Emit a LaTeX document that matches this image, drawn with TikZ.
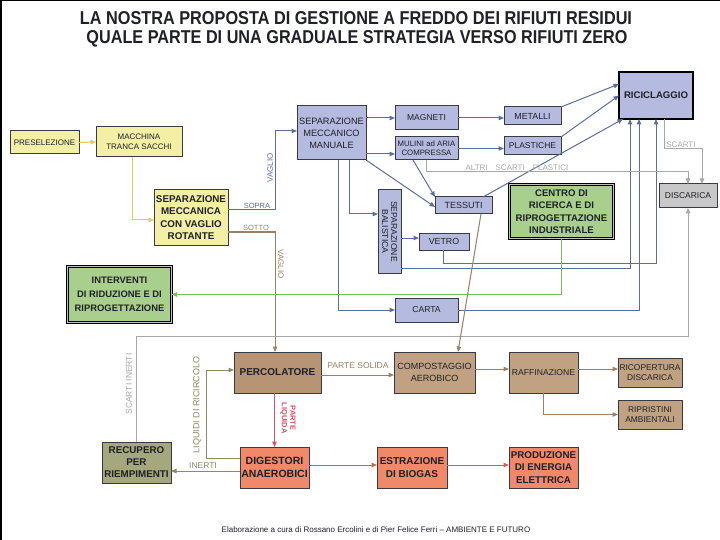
\documentclass[tikz,border=0pt]{standalone}
\usepackage{fontspec}
\usepackage{graphicx}
\setmainfont{Liberation Sans}
\usetikzlibrary{arrows.meta}
\definecolor{yelfill}{HTML}{F3EFA4}
\definecolor{lavfill}{HTML}{B5BADF}
\definecolor{grnfill}{HTML}{A8D08C}
\definecolor{grayfill}{HTML}{C8C8C8}
\definecolor{brnfill}{HTML}{C0A282}
\definecolor{percfill}{HTML}{B69474}
\definecolor{salfill}{HTML}{F0886A}
\definecolor{olivfill}{HTML}{A5A77D}
\definecolor{boxline}{HTML}{3A3A44}
\definecolor{yelline}{HTML}{E8C860}
\definecolor{lavline}{HTML}{5B6F9E}
\definecolor{grayline}{HTML}{A8A8A8}
\definecolor{brnline}{HTML}{9C8064}
\definecolor{pinkline}{HTML}{D85060}
\definecolor{redline}{HTML}{D86050}
\definecolor{olivline}{HTML}{8C8C60}
\definecolor{grnline}{HTML}{80B860}
\definecolor{txt}{HTML}{202028}
\begin{document}
\begin{tikzpicture}[x=1pt,y=-1pt,
  every node/.style={inner sep=0pt, outer sep=0pt},
  bx/.style={draw=boxline, line width=1pt, align=center, text=txt,
    font=\fontsize{8}{10}\selectfont},
  yel/.style={bx, fill=yelfill},
  lav/.style={bx, fill=lavfill},
  brn/.style={bx, fill=brnfill},
  sal/.style={bx, fill=salfill, font=\bfseries\fontsize{10}{12.5}\selectfont},
  grn/.style={bx, fill=grnfill, draw=black, line width=1.4pt, double=gray!50,
    double distance=0.7pt, font=\bfseries\fontsize{9.6}{12.5}\selectfont},
  lbl/.style={font=\fontsize{7.5}{8.5}\selectfont, text=#1, align=center},
  ar/.style={-{Triangle[length=5.5pt,width=4.5pt]}, line width=1pt},
  ]
\useasboundingbox (0,0) rectangle (720,540);
\fill[white] (0,0) rectangle (720,540);
\draw[black, line width=2pt] (1,0) -- (1,540);
\draw[black, line width=0.6pt] (0,0.3) -- (720,0.3);

% title
\node[font=\bfseries, text=txt] (t1) at (356,18)
  {\resizebox{552pt}{13pt}{LA NOSTRA PROPOSTA DI GESTIONE A FREDDO DEI RIFIUTI RESIDUI}};
\node[font=\bfseries, text=txt] (t2) at (357,39)
  {\resizebox{541pt}{13pt}{QUALE PARTE DI UNA GRADUALE STRATEGIA VERSO RIFIUTI ZERO}};

% boxes
\node[yel, minimum width=69pt, minimum height=23pt] (presel) at (44.5,142.5) {PRESELEZIONE};
\node[yel, minimum width=86pt, minimum height=30pt] (macchina) at (139,142) {MACCHINA\\TRANCA SACCHI};
\node[yel, minimum width=74pt, minimum height=55pt, font=\bfseries\fontsize{9.8}{12.5}\selectfont] (sepvaglio) at (191,217.5) {SEPARAZIONE\\MECCANICA\\CON VAGLIO\\ROTANTE};
\node[lav, minimum width=69pt, minimum height=54pt, font=\fontsize{9.2}{12}\selectfont] (sepman) at (331.5,133) {SEPARAZIONE\\MECCANICO\\MANUALE};
\node[lav, minimum width=63pt, minimum height=24pt, font=\fontsize{8.5}{10}\selectfont] (magneti) at (426.5,118) {MAGNETI};
\node[lav, minimum width=63pt, minimum height=23pt, font=\fontsize{7.8}{9}\selectfont] (mulini) at (426.5,148.5) {MULINI ad ARIA\\COMPRESSA};
\node[lav, minimum width=57pt, minimum height=18pt, font=\fontsize{8.8}{10}\selectfont] (metalli) at (532.5,116) {METALLI};
\node[lav, minimum width=57pt, minimum height=18pt, font=\fontsize{8.5}{10}\selectfont] (plastiche) at (532.5,146) {PLASTICHE};
\node[lav, minimum width=74pt, minimum height=47pt, draw=black, line width=1.5pt, font=\bfseries\fontsize{9.6}{11}\selectfont] (ricic) at (656,95.5) {RICICLAGGIO};
\node[lav, minimum width=23pt, minimum height=83pt, font=\fontsize{8.6}{9}\selectfont] (balistica) at (389.5,231.5) {\rotatebox{-90}{\shortstack{SEPARAZIONE\\BALISTICA}}};
\node[lav, minimum width=57pt, minimum height=17pt, font=\fontsize{9}{10}\selectfont] (tessuti) at (463.5,205.5) {TESSUTI};
\node[lav, minimum width=50pt, minimum height=17pt, font=\fontsize{8.8}{10}\selectfont] (vetro) at (444,241.5) {VETRO};
\node[lav, minimum width=63pt, minimum height=24pt, font=\fontsize{8.6}{10}\selectfont] (carta) at (426.5,310) {CARTA};
\node[grn, minimum width=104pt, minimum height=54pt] (centro) at (561.5,211.5) {CENTRO DI\\RICERCA E DI\\RIPROGETTAZIONE\\INDUSTRIALE};
\node[bx, fill=grayfill, minimum width=58pt, minimum height=24pt, font=\fontsize{8.5}{10}\selectfont] (discarica) at (688,196) {DISCARICA};
\node[grn, minimum width=104pt, minimum height=56pt, font=\bfseries\fontsize{9.4}{14}\selectfont] (interventi) at (119.5,294.5) {INTERVENTI\\DI RIDUZIONE E DI\\RIPROGETTAZIONE};
\node[bx, fill=percfill, minimum width=87pt, minimum height=41pt, font=\bfseries\fontsize{10}{12}\selectfont] (percol) at (277.5,372.5) {PERCOLATORE};
\node[brn, minimum width=81pt, minimum height=41pt, font=\fontsize{9}{12}\selectfont] (compost) at (434.5,372.5) {COMPOSTAGGIO\\AEROBICO};
\node[brn, minimum width=69pt, minimum height=41pt, font=\fontsize{8.6}{10}\selectfont] (raffin) at (543.5,372.5) {RAFFINAZIONE};
\node[brn, minimum width=64pt, minimum height=29pt, font=\fontsize{8.4}{10.5}\selectfont] (ricop) at (650,372.5) {RICOPERTURA\\DISCARICA};
\node[brn, minimum width=64pt, minimum height=29pt, font=\fontsize{8.4}{10.5}\selectfont] (ripr) at (650,414.5) {RIPRISTINI\\AMBIENTALI};
\node[bx, fill=olivfill, minimum width=69pt, minimum height=41pt, font=\bfseries\fontsize{9.8}{12}\selectfont] (recupero) at (136.5,462.5) {RECUPERO\\PER\\RIEMPIMENTI};
\node[sal, minimum width=69pt, minimum height=41pt, font=\bfseries\fontsize{10.5}{13}\selectfont] (digest) at (274.5,467.5) {DIGESTORI\\ANAEROBICI};
\node[sal, minimum width=70pt, minimum height=41pt] (estraz) at (412,467.5) {ESTRAZIONE\\DI BIOGAS};
\node[sal, minimum width=69pt, minimum height=41pt, font=\bfseries\fontsize{9.8}{12.5}\selectfont] (produz) at (543.5,467.5) {PRODUZIONE\\DI ENERGIA\\ELETTRICA};

% yellow connectors
\draw[ar, yelline] (presel.east) -- (macchina.west);
\draw[ar, yelline] ([xshift=-7pt]macchina.south) |- ([yshift=-2.5pt]sepvaglio.west);

% vaglio outputs
\draw[ar, lavline] ([yshift=7.5pt]sepvaglio.east) -- ++(47,0) |- ([yshift=2pt]sepman.west);
\draw[ar, brnline] ([yshift=-14.5pt]sepvaglio.east) -| ([xshift=-2.5pt]percol.north);

% blue connectors
\draw[ar, lavline] (sepman.east |- magneti.west) -- (magneti.west);
\draw[ar, lavline] ([yshift=-21pt]sepman.east) -- ([yshift=-5.5pt]mulini.west);
\draw[ar, lavline] (magneti.east) -- (metalli.west |- magneti.east);
\draw[ar, lavline] (mulini.east) -- (plastiche.west |- mulini.east);
\draw[ar, lavline] (metalli.north east) -- ([yshift=11.5pt]ricic.west);
\draw[ar, lavline] (plastiche.north east) -- (ricic.west);
\draw[ar, lavline] ([xshift=-9pt]tessuti.north east) -- ([xshift=-33pt]ricic.south);
\draw[ar, lavline] (sepman.south east) -- ([yshift=-1.5pt]tessuti.west);
\draw[ar, lavline] ([xshift=-13.5pt]mulini.south) -- (tessuti.north west);
\draw[ar, lavline] ([xshift=17.5pt]sepman.south) |- ([yshift=17.5pt]balistica.west);
\draw[ar, lavline] ([xshift=6.5pt]sepman.south) |- (carta.west);
\draw[ar, lavline] ([yshift=-6.5pt]balistica.east) -- ([yshift=3.5pt]vetro.west);
\draw[ar, lavline] ([xshift=-1pt]vetro.south) -- ++(0,13) -| (ricic.south);
\draw[ar, lavline] ([yshift=-36.5pt]balistica.east) -| ([xshift=-26pt]ricic.south);
\draw[ar, lavline] (carta.east) -| ([xshift=-17pt]ricic.south);

% gray connectors
\draw[ar, grayline] (mulini.south) -- ++(0,12) -| (discarica.north);
\draw[ar, grayline] ([xshift=8pt]ricic.south) -- ++(0,30) -| ([xshift=14pt]discarica.north);
\draw[ar, grayline] (recupero.north) -- ++(0,-106) -| (discarica.south);

% green
\draw[ar, grnline] (centro.south) |- (interventi.east);

% brown connectors
\draw[ar, brnline] ([xshift=17.5pt]tessuti.south) -- ([xshift=23.5pt]compost.north);
\draw[ar, brnline] ([yshift=-2.5pt]percol.east) -- ([yshift=-2.5pt]compost.west);
\draw[ar, brnline] ([yshift=3.5pt]compost.east) -- ([yshift=3.5pt]raffin.west);
\draw[ar, brnline] ([yshift=3.5pt]raffin.east) -- ([yshift=3.5pt]ricop.west);
\draw[ar, brnline] (raffin.south) |- (ripr.west);

% bottom connectors
\draw[ar, pinkline] (digest.north |- percol.south) -- (digest.north);
\draw[ar, olivline] ([yshift=9.5pt]digest.west) -- ++(-34,0) |- ([yshift=2.5pt]percol.west);
\draw[ar, olivline] ([yshift=-3.5pt]digest.west) -- ([yshift=-8.5pt]recupero.east);
\draw[ar, redline] ([yshift=2.5pt]digest.east) -- ([yshift=2.5pt]estraz.west);
\draw[ar, redline] ([yshift=2.5pt]estraz.east) -- ([yshift=2.5pt]produz.west);

% labels
\node[lbl=lavline] (lsopra) at (257,205.5) {SOPRA};
\node[lbl=brnline] (lsotto) at (256,227.5) {SOTTO};
\node[lbl=lavline, rotate=90, font=\fontsize{8}{9}\selectfont] (lvaglio1) at (270,168) {VAGLIO};
\node[lbl=brnline, rotate=-90, font=\fontsize{8}{9}\selectfont] (lvaglio2) at (281,264) {VAGLIO};
\node[lbl=grayline, font=\fontsize{8}{9}\selectfont] (laltri) at (517,167.5) {ALTRI\quad SCARTI\quad PLASTICI};
\node[lbl=grayline, font=\fontsize{8}{9}\selectfont] (lscarti) at (681,144.5) {SCARTI};
\node[lbl=grayline, rotate=90, font=\fontsize{8.5}{9}\selectfont] (linerti1) at (129,384) {SCARTI INERTI};
\node[lbl=brnline, font=\fontsize{8.5}{9}\selectfont] (lsolida) at (358,366) {PARTE SOLIDA};
\node[lbl=olivline, rotate=90, font=\fontsize{9}{10}\selectfont] (lliquidi) at (197,405) {LIQUIDI DI RICIRCOLO};
\node[lbl=pinkline, rotate=-90, font=\bfseries\fontsize{7.5}{8.5}\selectfont] (lliquida) at (288,418) {PARTE\\LIQUIDA};
\node[lbl=olivline, font=\fontsize{8.5}{9}\selectfont] (linerti2) at (203,465.5) {INERTI};

% footer
\node[font=\fontsize{8}{9}\selectfont, text=txt] (footer) at (376,530)
  {Elaborazione a cura di Rossano Ercolini e di Pier Felice Ferri -- AMBIENTE E FUTURO};
\end{tikzpicture}
\end{document}
